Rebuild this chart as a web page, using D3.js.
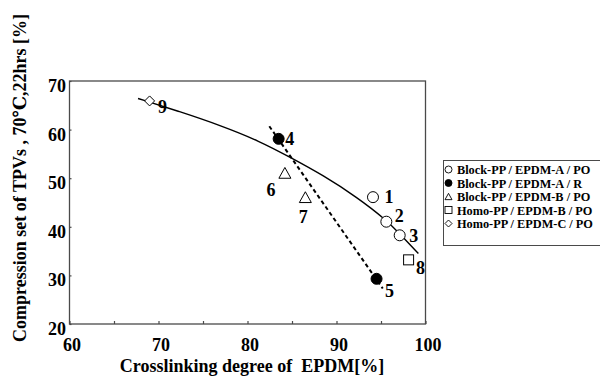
<!DOCTYPE html>
<html><head><meta charset="utf-8">
<script src="https://cdn.jsdelivr.net/npm/d3@7/dist/d3.min.js"></script>
<style>
html,body{margin:0;padding:0;background:#fff;}
svg{display:block;}
text{font-family:"Liberation Serif","Times New Roman",Times,"DejaVu Serif",serif;font-weight:bold;fill:#000;white-space:pre;}
</style></head>
<body>
<svg id="chart" width="600" height="376"></svg>
<script>
// ---- data ----
const seriesNames = ["Block-PP / EPDM-A / PO", "Block-PP / EPDM-A / R", "Block-PP / EPDM-B / PO", "Homo-PP / EPDM-B / PO", "Homo-PP / EPDM-C / PO"];
const seriesSymbols = ["circle", "filledCircle", "triangle", "square", "diamond"];
const sampleIds = ["1", "2", "3", "4", "5", "6", "7", "8", "9"];
const crosslinking = [94.1, 95.6, 97.1, 83.5, 94.5, 84.2, 86.5, 98.1, 69.0];
const compressionSet = [46.1, 41.05, 38.25, 58.1, 29.3, 51.1, 46.1, 33.2, 65.9];
const sampleSeries = [0, 0, 0, 1, 1, 2, 2, 3, 4];
const trendX = [67.7, 72.4, 76.9, 81.4, 84.8, 88.5, 92.3, 95.6, 97.1, 99.2];
const trendY = [66.4, 63.7, 60.9, 57.6, 54.3, 50.6, 46.1, 41.4, 38.6, 34.5];
const dashX = [82.45, 95.2];
const dashY = [60.7, 27.3];
const xTicks = [60, 70, 80, 90, 100];
const xMinorTicks = [60, 65, 70, 75, 80, 85, 90, 95, 100];
const yTicks = [20, 30, 40, 50, 60, 70];
const xTitle = "Crosslinking degree of  EPDM[%]";
const yTitle = "Compression set of TPVs , 70\u2103,22hrs [%]";

// label offsets in px (layout only)
const labelDX = [16, 13, 14, 11, 13, -14, -2, 12, 13];
const labelDY = [0, -6, 1, 0, 12, 17, 20, 8, 6];

// ---- layout ----
const svg = d3.select("#chart");
const L = 69.5, R = 425.5, T = 81, B = 324;
const x = d3.scaleLinear().domain([60, 100]).range([L, R]);
const y = d3.scaleLinear().domain([20, 70]).range([B, T]);
const frameColor = "#4a4a4a";

// frame
svg.append("rect").attr("x", L).attr("y", T).attr("width", R - L).attr("height", B - T)
  .attr("fill", "none").attr("stroke", frameColor).attr("stroke-width", 1.3);

// x axis ticks (inward)
const xAxis = d3.axisBottom(x).tickValues(xMinorTicks).tickSize(-3).tickFormat("");
const gx = svg.append("g").attr("transform", `translate(0,${B})`).call(xAxis);
gx.select(".domain").remove();
gx.selectAll("line").attr("stroke", frameColor).attr("stroke-width", 1.2);
svg.append("g").selectAll("text").data(xTicks).join("text")
  .attr("x", d => x(d) + 2.5).attr("y", 351)
  .attr("text-anchor", "middle").attr("font-size", 18).text(d => d);

// y axis ticks
const yAxis = d3.axisLeft(y).tickValues(yTicks).tickSize(-2).tickFormat("");
const gy = svg.append("g").attr("transform", `translate(${L},0)`).call(yAxis);
gy.select(".domain").remove();
gy.selectAll("line").attr("stroke", frameColor).attr("stroke-width", 1.2);
svg.append("g").selectAll("text").data(yTicks).join("text")
  .attr("x", 66).attr("y", d => y(d) + 11)
  .attr("text-anchor", "end").attr("font-size", 18).text(d => d);

// titles
svg.append("text").attr("x", 252).attr("y", 372).attr("text-anchor", "middle")
  .attr("font-size", 18).text(xTitle);
svg.append("text").attr("transform", "translate(26,178) rotate(-90)").attr("text-anchor", "middle")
  .attr("font-size", 18).text(yTitle);

// trend curve
const trend = trendX.map((v, i) => [v, trendY[i]]);
svg.append("path").datum(trend)
  .attr("d", d3.line().x(d => x(d[0])).y(d => y(d[1])).curve(d3.curveBasis))
  .attr("fill", "none").attr("stroke", "#000").attr("stroke-width", 1.4);

// dashed line
const dash = dashX.map((v, i) => [v, dashY[i]]);
svg.append("path").datum(dash)
  .attr("d", d3.line().x(d => x(d[0])).y(d => y(d[1])))
  .attr("fill", "none").attr("stroke", "#000").attr("stroke-width", 2).attr("stroke-dasharray", "4,3");

// markers
function drawSymbol(g, type, cx, cy, s) {
  const st = { fill: "#fff", stroke: "#000", "stroke-width": 1 };
  let el;
  if (type === "circle" || type === "filledCircle") {
    el = g.append("circle").attr("cx", cx).attr("cy", cy).attr("r", s / 2);
    if (type === "filledCircle") st.fill = "#000";
  } else if (type === "triangle") {
    const h = s * 0.9;
    el = g.append("path").attr("d", `M${cx},${cy - h / 2}L${cx + s / 2},${cy + h / 2}L${cx - s / 2},${cy + h / 2}Z`);
  } else if (type === "square") {
    el = g.append("rect").attr("x", cx - s / 2).attr("y", cy - s / 2).attr("width", s).attr("height", s);
  } else if (type === "diamond") {
    el = g.append("path").attr("d", `M${cx},${cy - s / 2}L${cx + s / 2},${cy}L${cx},${cy + s / 2}L${cx - s / 2},${cy}Z`);
  }
  Object.entries(st).forEach(([k, v]) => el.attr(k, v));
  return el;
}

const gm = svg.append("g");
sampleIds.forEach((id, i) => {
  const cx = x(crosslinking[i]), cy = y(compressionSet[i]);
  const type = seriesSymbols[sampleSeries[i]];
  const size = type === "triangle" ? 12 : (type === "square" ? 10 : (type === "diamond" ? 10 : 11));
  drawSymbol(gm, type, cx, cy, size);
  gm.append("text").attr("x", cx + labelDX[i]).attr("y", cy + labelDY[i] + 6)
    .attr("text-anchor", "middle").attr("font-size", 18).text(id);
});

// legend
const lg = svg.append("g");
lg.append("rect").attr("x", 443.5).attr("y", 160.5).attr("width", 200).attr("height", 85)
  .attr("fill", "#fff").attr("stroke", frameColor).attr("stroke-width", 1);
seriesNames.forEach((name, i) => {
  const cy = 169.5 + i * 13.5;
  drawSymbol(lg, seriesSymbols[i], 448.5, cy, 7).attr("stroke-width", 0.9);
  lg.append("text").attr("x", 457).attr("y", cy + 4.5).attr("font-size", 12.3).text(name);
});
</script>
</body></html>
